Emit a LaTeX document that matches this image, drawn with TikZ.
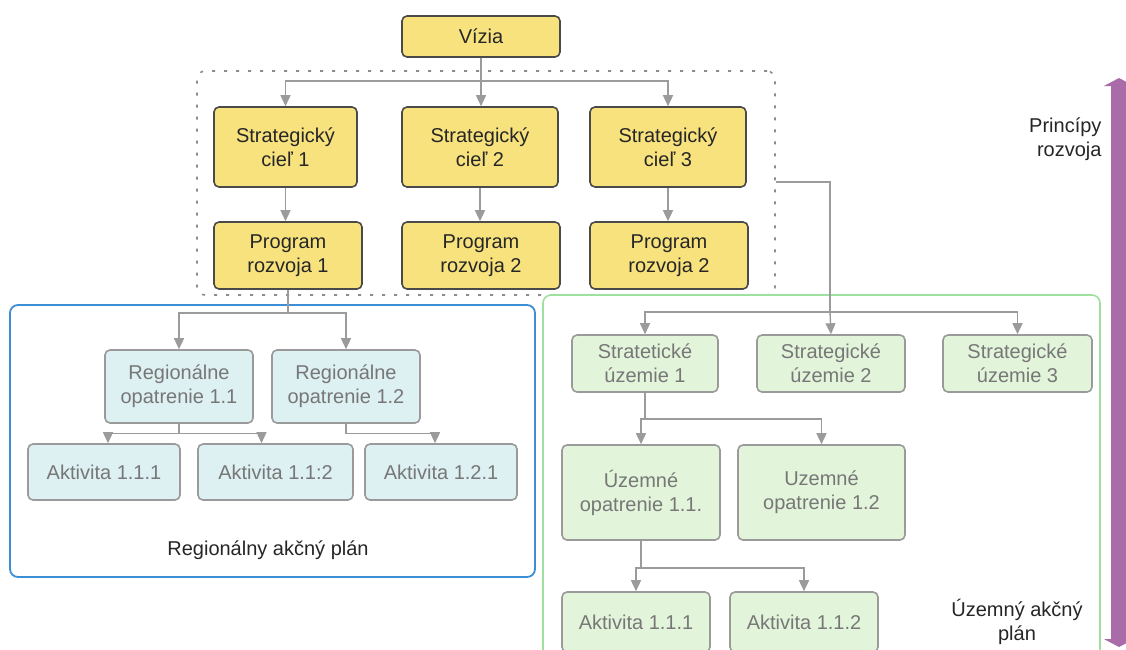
\documentclass[tikz,border=0pt]{standalone}
\usepackage{fontspec}
\setmainfont{Liberation Sans}
\usetikzlibrary{arrows.meta,positioning}
\definecolor{yfill}{HTML}{F8E27E}
\definecolor{yline}{HTML}{4A4A4A}
\definecolor{bfill}{HTML}{DDF0F2}
\definecolor{gfill}{HTML}{E2F4DA}
\definecolor{boxline}{HTML}{9A9A9A}
\definecolor{conn}{HTML}{9B9B9B}
\definecolor{bframe}{HTML}{3E8ED6}
\definecolor{gframe}{HTML}{9FDF9F}
\definecolor{purp}{HTML}{A96CA9}
\definecolor{ttext}{HTML}{777777}
\tikzset{
  base/.style={rounded corners=5pt, align=center, inner sep=2pt, font=\fontsize{20}{24}\selectfont, line width=1.6pt},
  ybox/.style={base, fill=yfill, draw=yline, text=black!85},
  bbox/.style={base, fill=bfill, draw=boxline, text=ttext},
  gbox/.style={base, fill=gfill, draw=boxline, text=ttext},
  conn/.style={draw=conn, line width=1.4pt, -{Triangle[width=10pt,length=11pt]}},
  cline/.style={draw=conn, line width=1.4pt},
  lbl/.style={font=\fontsize{20}{24}\selectfont, text=black!85, align=center},
}
\begin{document}
\begin{tikzpicture}[x=1pt,y=-1pt]
\useasboundingbox (0,0) rectangle (1126,649);
\fill[white] (0,0) rectangle (1126,649);
\begin{scope}
\clip (0,0) rectangle (1126,649);
% frames
\node[draw=black!45, dashed, dash pattern=on 3pt off 9pt, line width=1.6pt, rounded corners=8pt, minimum width=578pt, minimum height=224pt, inner sep=0pt] (princ) at (486,183) {};
\node[draw=bframe, line width=1.8pt, rounded corners=8pt, minimum width=525pt, minimum height=272pt, inner sep=0pt] (reg) at (272.5,441) {};
\node[draw=gframe, line width=1.6pt, rounded corners=8pt, minimum width=557pt, minimum height=370pt, inner sep=0pt] (uzem) at (821.5,480) {};
% top
\node[ybox, minimum width=158pt, minimum height=41pt] (vizia) at (481,36.5) {Vízia};
\node[ybox, minimum width=143pt, minimum height=80pt] (sc1) at (285.5,147) {Strategický\\cieľ 1};
\node[ybox, minimum width=156pt, minimum height=80pt] (sc2) at (480,147) {Strategický\\cieľ 2};
\node[ybox, minimum width=156pt, minimum height=80pt] (sc3) at (668,147) {Strategický\\cieľ 3};
\node[ybox, minimum width=148pt, minimum height=67pt] (pr1) at (288,255.5) {Program\\rozvoja 1};
\node[ybox, minimum width=158pt, minimum height=67pt] (pr2) at (481,255.5) {Program\\rozvoja 2};
\node[ybox, minimum width=158pt, minimum height=67pt] (pr3) at (669,255.5) {Program\\rozvoja 2};
% regional
\node[bbox, minimum width=148pt, minimum height=73pt] (ro11) at (179,386.5) {Regionálne\\opatrenie 1.1};
\node[bbox, minimum width=148pt, minimum height=73pt] (ro12) at (346,386.5) {Regionálne\\opatrenie 1.2};
\node[bbox, minimum width=152pt, minimum height=56pt] (a111) at (104,472) {Aktivita 1.1.1};
\node[bbox, minimum width=155pt, minimum height=56pt] (a112) at (275.5,472) {Aktivita 1.1:2};
\node[bbox, minimum width=152pt, minimum height=56pt] (a121) at (441,472) {Aktivita 1.2.1};
\node[lbl] (regl) at (268,550) {Regionálny akčný plán};
% territorial
\node[gbox, minimum width=146pt, minimum height=57pt] (su1) at (645,363.5) {Stratetické\\územie 1};
\node[gbox, minimum width=148pt, minimum height=57pt] (su2) at (831,363.5) {Strategické\\územie 2};
\node[gbox, minimum width=149pt, minimum height=57pt] (su3) at (1017.5,363.5) {Strategické\\územie 3};
\node[gbox, minimum width=158pt, minimum height=95pt] (uo11) at (641,492.5) {Územné\\opatrenie 1.1.};
\node[gbox, minimum width=167pt, minimum height=95pt] (uo12) at (821.5,492.5) {Uzemné\\opatrenie 1.2};
\node[gbox, minimum width=148pt, minimum height=60pt] (ag111) at (636,622) {Aktivita 1.1.1};
\node[gbox, minimum width=148pt, minimum height=60pt] (ag112) at (804,622) {Aktivita 1.1.2};
\node[lbl] (uzl) at (1017,622) {Územný akčný\\plán};
\node[lbl, align=right, anchor=east] (pril) at (1105,139) {Princípy\\rozvoja};
% connectors
\draw[conn] (vizia.south) -- ++(0,23) -| (sc1.north);
\draw[conn] (vizia.south) -- ++(0,23) -| (sc3.north);
\draw[conn] (vizia.south) -- (vizia.south |- sc2.north);
\draw[conn] (sc1.south) -- (sc1.south |- pr1.north);
\draw[conn] (sc2.south) -- (sc2.south |- pr2.north);
\draw[conn] (sc3.south) -- (sc3.south |- pr3.north);
\draw[conn] (pr1.south) -- ++(0,23) -| (ro11.north);
\draw[conn] (pr1.south) -- ++(0,23) -| (ro12.north);
\draw[conn] (ro11.south) -- ++(0,9.5) -| ([xshift=4pt]a111.north);
\draw[conn] (ro11.south) -- ++(0,9.5) -| ([xshift=-14pt]a112.north);
\draw[conn] (ro12.south) -- ++(0,9.5) -| ([xshift=-6pt]a121.north);
\coordinate (c1) at (princ.east |- 0,182);
\draw[cline] (c1) -- (830,182) -- (830,312);
\draw[conn] (830,312) -| (su1.north);
\draw[conn] (830,312) -- (su2.north);
\draw[conn] (830,312) -| (su3.north);
\draw[conn] (su1.south) -- ++(0,26) -| (uo11.north);
\draw[conn] (su1.south) -- ++(0,26) -| (uo12.north);
\draw[conn] (uo11.south) -- ++(0,27) -| (ag111.north);
\draw[conn] (uo11.south) -- ++(0,27) -| (ag112.north);
% purple double arrow
\coordinate (pt) at (1119,78);
\coordinate (pb) at (1119,647);
\draw[purp, line width=16pt, {Triangle[width=30pt,length=8pt]}-{Triangle[width=30pt,length=8pt]}] (pt) -- (pb);
\end{scope}
\end{tikzpicture}
\end{document}
